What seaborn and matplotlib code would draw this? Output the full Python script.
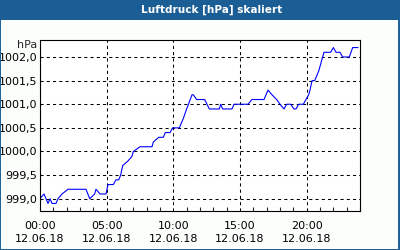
import matplotlib
matplotlib.use("Agg")
import matplotlib.pyplot as plt
import matplotlib.patches as patches
from matplotlib.ticker import MultipleLocator
import seaborn as sns
import pandas as pd

# Data: hours after 12.06.18 00:00 and pressure values in hPa
hours = [0.0, 0.3, 0.6, 0.75, 0.9, 1.2, 1.35, 1.65, 2.1, 3.45, 3.73, 4.1, 4.2, 4.5,
         4.95, 5.1, 5.5, 5.7, 5.9, 6.05, 6.2, 6.6, 6.9, 7.0, 7.5, 8.4, 8.5, 8.9,
         9.25, 9.4, 9.75, 9.95, 10.45, 10.75, 11.0, 11.4, 11.5, 11.75, 12.35, 12.7,
         13.45, 13.55, 13.7, 14.4, 14.55, 15.6, 15.9, 16.8, 17.1, 17.4, 17.75, 18.0,
         18.3, 18.5, 18.8, 19.05, 19.2, 19.4, 19.75, 19.95, 20.15, 20.25, 20.4, 20.6,
         20.9, 21.1, 21.3, 21.8, 22.0, 22.2, 22.5, 22.7, 23.2, 23.45, 23.85]
pressure = [999.0, 999.1, 998.9, 999.0, 998.9, 998.9, 999.0, 999.1, 999.2, 999.2,
            999.0, 999.1, 999.2, 999.1, 999.1, 999.3, 999.3, 999.4, 999.4, 999.5,
            999.7, 999.8, 999.9, 1000.0, 1000.1, 1000.1, 1000.2, 1000.3, 1000.3,
            1000.4, 1000.4, 1000.5, 1000.5, 1000.7, 1000.9, 1001.2, 1001.2, 1001.1,
            1001.1, 1000.9, 1000.9, 1001.0, 1000.9, 1000.9, 1001.0, 1001.0, 1001.1,
            1001.1, 1001.3, 1001.2, 1001.1, 1001.0, 1000.9, 1001.0, 1001.0, 1000.9,
            1000.9, 1001.0, 1001.0, 1001.1, 1001.2, 1001.3, 1001.5, 1001.5, 1001.7,
            1001.9, 1002.1, 1002.1, 1002.2, 1002.1, 1002.1, 1002.0, 1002.0, 1002.2,
            1002.2]
x_ticks = [0, 5, 10, 15, 20]
x_labels = ["00:00\n12.06.18", "05:00\n12.06.18", "10:00\n12.06.18",
            "15:00\n12.06.18", "20:00\n12.06.18"]
y_ticks = [999.0, 999.5, 1000.0, 1000.5, 1001.0, 1001.5, 1002.0]
y_labels = ["999,0", "999,5", "1000,0", "1000,5", "1001,0", "1001,5", "1002,0"]
title = "Luftdruck [hPa] skaliert"
unit = "hPa"

df = pd.DataFrame({"h": hours, "p": pressure})

sns.set_style("white")
plt.rcParams["font.family"] = ["DejaVu Sans"]

fig = plt.figure(figsize=(4, 2.5), dpi=100)
fig.patch.set_facecolor("#fcfefc")

# title bar and frame
bar_color = "#1b5e96"
fig.patches.append(patches.Rectangle((0, 1 - 20 / 250), 1, 20 / 250,
                                     transform=fig.transFigure, facecolor=bar_color,
                                     edgecolor="none", zorder=0))
fig.patches.append(patches.Rectangle((0.001, 0.002), 0.997, 0.996,
                                     transform=fig.transFigure, facecolor="none",
                                     edgecolor=bar_color, linewidth=1.4, zorder=1))
fig.text(0.53, 1 - 10 / 250, title, color="white", fontsize=7.6, fontweight="bold",
         ha="center", va="center")

ax = fig.add_axes([40 / 400, 39 / 250, 320 / 400, 171 / 250])
ax.set_facecolor("white")
sns.lineplot(data=df, x="h", y="p", ax=ax, color="#0000ff", linewidth=0.8)

ax.set_xlim(0, 24)
ax.set_ylim(998.74, 1002.36)
ax.set_xticks(x_ticks)
ax.set_xticklabels(x_labels, fontsize=8, linespacing=1.45)
ax.xaxis.set_minor_locator(MultipleLocator(1))
ax.set_yticks(y_ticks)
ax.set_yticklabels(y_labels, fontsize=8)
ax.set_xlabel("")
ax.set_ylabel("")

ax.tick_params(axis="x", which="major", direction="in", length=5, width=0.8,
               pad=7, colors="black")
ax.tick_params(axis="x", which="minor", direction="in", length=3, width=0.8,
               bottom=True)
ax.tick_params(axis="y", which="major", direction="in", length=0, pad=2,
               colors="black")
ax.grid(True, which="major", color="black", linestyle=(0, (3, 3)), linewidth=0.75)
for s in ax.spines.values():
    s.set_visible(True)
    s.set_color("black")
    s.set_linewidth(0.8)

fig.text(37 / 400, 1 - 45 / 250, unit, fontsize=8, ha="right", va="center")

fig.savefig("out.png", dpi=100, facecolor=fig.get_facecolor())
